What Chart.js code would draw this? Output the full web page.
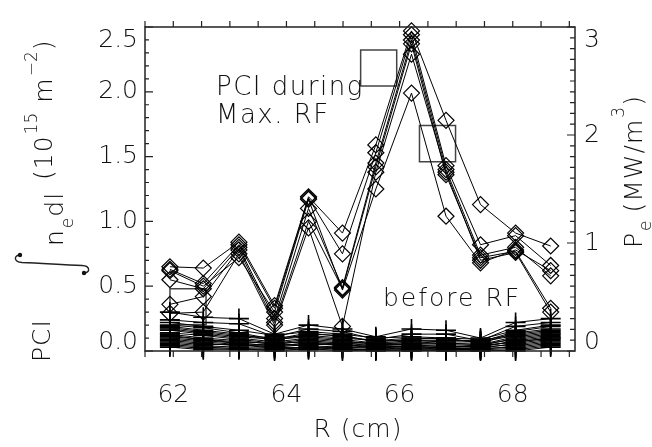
<!DOCTYPE html>
<html lang="en">
<head>
<meta charset="UTF-8">
<title>PCI line-integrated density vs R</title>
<script src="https://cdn.jsdelivr.net/npm/chart.js"></script>
<style>
  body { margin: 0; background: #fff; }
  .wrap { position: relative; width: 652px; height: 447px; }
</style>
</head>
<body>
<div class="wrap"><canvas id="pciChart" width="652" height="447"></canvas></div>
<script>
// major radius of each PCI chord (cm)
const radius = [61.94, 62.53, 63.16, 63.79, 64.39, 64.99, 65.58, 66.21, 66.82, 67.43, 68.05, 68.67];

// PCI during max RF (10^15 m^-2), one array per time slice
const maxRF1 = [0.65, 0.64, 0.84, 0.35, 1.19, 0.91, 1.59, 2.47, 1.78, 1.13, 0.91, 0.81];
const maxRF2 = [0.63, 0.52, 0.82, 0.33, 1.18, 0.75, 1.53, 2.44, 1.43, 0.82, 0.89, 0.66];
const maxRF3 = [0.55, 0.48, 0.80, 0.25, 1.10, 0.49, 1.45, 2.40, 1.40, 0.74, 0.80, 0.58];
const maxRF4 = [0.36, 0.42, 0.78, 0.22, 1.00, 0.48, 1.42, 2.37, 1.36, 0.72, 0.77, 0.33];
const maxRF5 = [0.29, 0.30, 0.75, 0.20, 0.95, 0.19, 1.38, 2.29, 1.38, 0.70, 0.76, 0.30];
const maxRF6 = [0.62, 0.50, 0.72, 0.30, 1.17, 0.47, 1.25, 1.99, 1.04, 0.68, 0.78, 0.62];

// PCI before RF, one row per time slice
const beforeRF = [
  [0.30, 0.26, 0.25, 0.13, 0.20, 0.17, 0.11, 0.17, 0.16, 0.10, 0.22, 0.25],
  [0.24, 0.22, 0.21, 0.11, 0.17, 0.15, 0.09, 0.13, 0.13, 0.08, 0.19, 0.22],
  [0.22, 0.19, 0.16, 0.12, 0.15, 0.13, 0.10, 0.11, 0.10, 0.09, 0.16, 0.20],
  [0.20, 0.18, 0.14, 0.09, 0.14, 0.11, 0.08, 0.10, 0.09, 0.07, 0.15, 0.19],
  [0.19, 0.16, 0.13, 0.08, 0.13, 0.12, 0.07, 0.09, 0.10, 0.06, 0.14, 0.17],
  [0.18, 0.15, 0.12, 0.10, 0.12, 0.10, 0.08, 0.08, 0.08, 0.08, 0.13, 0.16],
  [0.17, 0.14, 0.11, 0.09, 0.11, 0.09, 0.06, 0.08, 0.07, 0.07, 0.12, 0.15],
  [0.16, 0.13, 0.10, 0.07, 0.10, 0.08, 0.05, 0.07, 0.06, 0.05, 0.11, 0.14],
  [0.14, 0.12, 0.09, 0.06, 0.09, 0.07, 0.06, 0.06, 0.05, 0.04, 0.10, 0.13],
  [0.13, 0.10, 0.08, 0.05, 0.08, 0.06, 0.04, 0.05, 0.06, 0.05, 0.09, 0.12],
  [0.12, 0.09, 0.07, 0.06, 0.07, 0.05, 0.03, 0.04, 0.04, 0.03, 0.08, 0.11],
  [0.11, 0.09, 0.06, 0.04, 0.06, 0.06, 0.05, 0.05, 0.03, 0.04, 0.07, 0.10],
  [0.10, 0.08, 0.06, 0.04, 0.06, 0.04, 0.04, 0.03, 0.03, 0.04, 0.07, 0.10],
  [0.09, 0.07, 0.05, 0.03, 0.05, 0.05, 0.02, 0.04, 0.02, 0.02, 0.06, 0.09],
  [0.08, 0.06, 0.04, 0.05, 0.04, 0.03, 0.03, 0.02, 0.03, 0.03, 0.05, 0.08],
  [0.07, 0.05, 0.05, 0.02, 0.03, 0.02, 0.01, 0.03, 0.01, 0.01, 0.04, 0.07],
  [0.06, 0.04, 0.03, 0.03, 0.02, 0.03, 0.02, 0.01, 0.02, 0.02, 0.03, 0.06],
  [0.05, 0.03, 0.02, 0.01, 0.03, 0.01, 0.01, 0.02, 0.01, 0.01, 0.02, 0.05],
  [0.04, 0.02, 0.01, 0.02, 0.01, 0.02, 0.00, 0.01, 0.00, 0.00, 0.01, 0.04],
  [0.03, 0.01, 0.02, 0.00, 0.02, 0.00, 0.01, 0.00, 0.01, 0.01, 0.00, 0.03]
];

// RF power deposition (MW/m^3), right axis
const peRadius = [62.26, 65.63, 66.67];
const peValues = [0.41, 2.62, 1.92];

// tick labels
const xTickLabels = ['62', '64', '66', '68'];
const yTickLabels = ['0.0', '0.5', '1.0', '1.5', '2.0', '2.5'];
const y2TickLabels = ['0', '1', '2', '3'];

const FONT = '"DejaVu Sans", "Liberation Sans", sans-serif';
const INK = '#111';

function pts(xs, ys) {
    return ys.map((v, i) => ({ x: xs[i], y: v }));
}

const datasets = [];

beforeRF.forEach(row => {
    datasets.push({
        data: pts(radius, row),
        borderColor: '#000',
        borderWidth: 1,
        pointStyle: 'cross',
        pointRadius: 10,
        pointBorderWidth: 1.6,
        pointBorderColor: '#000',
        clip: false
    });
});

[maxRF1, maxRF2, maxRF3, maxRF4, maxRF5, maxRF6].forEach(row => {
    datasets.push({
        data: pts(radius, row),
        borderColor: '#000',
        borderWidth: 1,
        pointStyle: 'rectRot',
        pointRadius: 8,
        pointBorderWidth: 1.2,
        pointBorderColor: '#000',
        pointBackgroundColor: 'rgba(0,0,0,0)',
        clip: false
    });
});

datasets.push({
    data: pts(peRadius, peValues),
    yAxisID: 'y2',
    showLine: false,
    pointStyle: 'rect',
    pointRadius: 25.5,
    pointBorderWidth: 1.5,
    pointBorderColor: '#444',
    pointBackgroundColor: 'rgba(0,0,0,0)',
    clip: false
});

// draws text rotated by -90deg, starting at (baseX, startY) going upward
function vText(ctx, str, size, baseX, startY, spacing) {
    ctx.save();
    ctx.translate(baseX, startY);
    ctx.rotate(-Math.PI / 2);
    ctx.font = `200 ${size}px ${FONT}`;
    ctx.letterSpacing = (spacing || 0) + 'px';
    ctx.textAlign = 'left';
    ctx.textBaseline = 'alphabetic';
    ctx.fillText(str, 0, 0);
    const w = ctx.measureText(str).width;
    ctx.restore();
    return startY - w;
}

const idlAxes = {
    id: 'idlAxes',
    afterDraw(chart) {
        const ctx = chart.ctx;
        const a = chart.chartArea;
        const sx = chart.scales.x, sy = chart.scales.y, sy2 = chart.scales.y2;
        ctx.save();
        ctx.strokeStyle = '#222';
        ctx.fillStyle = INK;
        ctx.lineWidth = 1.5;
        ctx.strokeRect(a.left, a.top, a.right - a.left, a.bottom - a.top);

        ctx.lineWidth = 1.2;
        ctx.beginPath();
        // x ticks every 0.5 cm, outward on top and bottom
        for (let i = 123; i <= 138; i++) {
            const px = sx.getPixelForValue(i / 2);
            ctx.moveTo(px, a.bottom); ctx.lineTo(px, a.bottom + 6);
            ctx.moveTo(px, a.top); ctx.lineTo(px, a.top - 6);
        }
        // left ticks every 0.1
        for (let i = 0; i <= 25; i++) {
            const py = sy.getPixelForValue(i / 10);
            const len = i % 5 === 0 ? 8 : 4;
            ctx.moveTo(a.left, py); ctx.lineTo(a.left + len, py);
        }
        // right ticks every 0.1
        for (let i = 0; i <= 30; i++) {
            const py = sy2.getPixelForValue(i / 10);
            const len = i % 10 === 0 ? 8 : 5;
            ctx.moveTo(a.right, py); ctx.lineTo(a.right - len, py);
        }
        ctx.stroke();

        // tick labels
        ctx.font = `200 25px ${FONT}`;
        ctx.textAlign = 'center';
        ctx.textBaseline = 'alphabetic';
        xTickLabels.forEach(t => {
            ctx.fillText(t, sx.getPixelForValue(parseFloat(t)), 402);
        });

        ctx.font = `200 25px ${FONT}`;
        ctx.textBaseline = 'middle';
        ctx.textAlign = 'right';
        yTickLabels.forEach((t, i) => {
            let py = sy.getPixelForValue(parseFloat(t));
            if (i === 0) py -= 9;
            if (i === yTickLabels.length - 1) py += 13;
            ctx.fillText(t, a.left - 7, py);
        });
        ctx.textAlign = 'left';
        y2TickLabels.forEach((t, i) => {
            let py = sy2.getPixelForValue(parseFloat(t));
            if (i === 0) py -= 9;
            if (i === y2TickLabels.length - 1) py += 13;
            ctx.fillText(t, a.right + 9, py);
        });

        // x title
        ctx.font = `200 25px ${FONT}`;
        ctx.textAlign = 'center';
        ctx.textBaseline = 'alphabetic';
        ctx.letterSpacing = '1px';
        ctx.fillText('R (cm)', 358, 437);

        // annotations
        ctx.font = `200 26px ${FONT}`;
        ctx.textAlign = 'left';
        ctx.letterSpacing = '1.5px';
        ctx.fillText('PCI during', 216, 95);
        ctx.fillText('Max. RF', 216, 123);
        ctx.font = `200 25px ${FONT}`;
        ctx.letterSpacing = '2px';
        ctx.fillText('before RF', 383, 306);
        ctx.letterSpacing = '0px';

        // left title: PCI  \int n_e dl (10^15 m^-2)
        let y = 362;
        vText(ctx, 'PCI', 25, 50, y, 1);
        // integral sign drawn as a path, in upright coords mapped to screen
        const cx = 52, cy = 264;
        const m = (u, v) => [cx + v, cy - u];
        ctx.lineWidth = 1.4;
        ctx.beginPath();
        ctx.moveTo(...m(9, -32));
        ctx.bezierCurveTo(...m(9, -38), ...m(2, -39), ...m(1.5, -30));
        ctx.bezierCurveTo(...m(1, -10), ...m(-1, 10), ...m(-1.5, 30));
        ctx.bezierCurveTo(...m(-2, 39), ...m(-9, 38), ...m(-9, 32));
        ctx.stroke();
        ctx.beginPath(); ctx.arc(...m(9, -32), 2.2, 0, Math.PI * 2); ctx.fill();
        ctx.beginPath(); ctx.arc(...m(-9, 32), 2.2, 0, Math.PI * 2); ctx.fill();
        y = vText(ctx, 'n', 25, 63, 246, 1);
        y = vText(ctx, 'e', 17, 73, y - 1, 0);
        y = vText(ctx, 'dl', 25, 63, y - 1, 1);
        y = vText(ctx, '(10', 25, 52, y - 12, 1);
        y = vText(ctx, '15', 17, 37, y - 1, 0);
        y = vText(ctx, 'm', 25, 52, y - 10, 1);
        y = vText(ctx, '\u22122', 17, 37, y - 1, 0);
        vText(ctx, ')', 25, 52, y - 1, 0);

        // right title: P_e (MW/m^3)
        y = vText(ctx, 'P', 25, 642, 248, 1);
        y = vText(ctx, 'e', 17, 651, y - 1, 0);
        y = vText(ctx, '(MW/m', 25, 642, y - 8, 1);
        y = vText(ctx, '3', 17, 624, y - 1, 0);
        vText(ctx, ')', 25, 642, y - 1, 0);
        ctx.restore();
    }
};

new Chart(document.getElementById('pciChart'), {
    type: 'line',
    data: { datasets: datasets },
    options: {
        responsive: false,
        animation: false,
        layout: { padding: { left: 145, right: 77, top: 7, bottom: 96 } },
        scales: {
            x: { type: 'linear', min: 61.5, max: 69.1, display: false },
            y: { min: 0, max: 2.5, display: false },
            y2: { min: 0, max: 3, display: false, position: 'right' }
        },
        plugins: { legend: { display: false }, tooltip: { enabled: false } }
    },
    plugins: [idlAxes]
});
</script>
</body>
</html>
